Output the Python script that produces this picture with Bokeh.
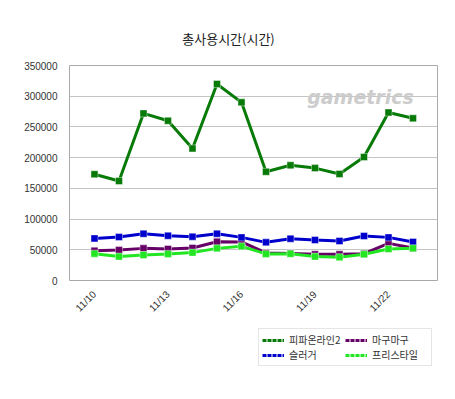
from bokeh.plotting import figure
from bokeh.models import Range1d, FixedTicker, Label, Legend, LegendItem, NumeralTickFormatter
from bokeh.layouts import column
from bokeh.embed import file_html
from bokeh.resources import INLINE
import math

dates = ["11/10", "11/11", "11/12", "11/13", "11/14", "11/15", "11/16",
         "11/17", "11/18", "11/19", "11/20", "11/21", "11/22", "11/23"]
fifa = [173000, 162000, 272000, 260000, 215000, 320000, 290000,
        177000, 187500, 183000, 173500, 201000, 273500, 264000]
magu = [48500, 49500, 52300, 51300, 53000, 63200, 62700,
        44900, 44000, 42700, 42700, 43700, 60400, 53000]
slugger = [68500, 70800, 76200, 72900, 71300, 76200, 70200,
           62100, 68100, 65900, 64300, 72400, 70200, 62700]
freestyle = [43700, 38900, 41600, 43300, 45400, 52300, 55600,
             43300, 43500, 38900, 37800, 42700, 51300, 52300]
names = ["피파온라인2", "마구마구", "슬러거", "프리스타일"]
colors = ["#077a07", "#660066", "#0000cc", "#22e622"]
series = [fifa, magu, slugger, freestyle]
xs = list(range(len(dates)))


def blank(h):
    f = figure(width=455, height=h, output_backend="svg", toolbar_location=None,
               x_range=Range1d(0, 1), y_range=Range1d(0, 1),
               min_border_left=0, min_border_right=0, min_border_top=0, min_border_bottom=0)
    f.axis.visible = False
    f.grid.visible = False
    f.outline_line_color = None
    f.border_fill_color = "white"
    return f


# title panel (frame aligned with the main frame by the column layout)
tp = blank(57)
tp.add_layout(Label(x=159, y=19, x_units="screen", y_units="screen", text="총사용시간(시간)",
                    text_align="center", text_baseline="middle",
                    text_font="Noto Sans CJK KR", text_font_size="13px",
                    text_color="#222222"))

p = figure(width=455, height=263, output_backend="svg", toolbar_location=None,
           x_range=Range1d(-1.02, 14.0), y_range=Range1d(0, 350000),
           min_border_left=69, min_border_right=18, min_border_top=8, min_border_bottom=39)
p.outline_line_color = "#aaaaaa"
p.outline_line_width = 1
p.border_fill_color = "white"
p.background_fill_color = "white"

p.xgrid.visible = False
p.ygrid.grid_line_color = "#c4c4c4"
p.ygrid.grid_line_width = 1

p.yaxis.ticker = FixedTicker(ticks=[0, 50000, 100000, 150000, 200000, 250000, 300000, 350000])
p.yaxis.formatter = NumeralTickFormatter(format="0")
p.xaxis.ticker = FixedTicker(ticks=[0, 3, 6, 9, 12])
p.xaxis.major_label_overrides = {i: dates[i] for i in [0, 3, 6, 9, 12]}
p.xaxis.major_label_orientation = math.pi / 4
for ax in (p.xaxis[0], p.yaxis[0]):
    ax.axis_line_color = None
    ax.major_tick_line_color = None
    ax.minor_tick_line_color = None
    ax.major_label_text_font = "Liberation Sans"
    ax.major_label_text_font_size = "10px"
    ax.major_label_text_color = "#333333"
p.yaxis.major_label_standoff = 6
p.xaxis.major_label_standoff = 6

for name, col, ys in zip(names, colors, series):
    p.line(xs, ys, line_color=col, line_width=3)
    p.scatter(xs, ys, marker="square", size=7, fill_color=col, line_color="white",
              line_width=0.6, line_alpha=0.7)

p.add_layout(Label(x=291, y=184, x_units="screen", y_units="screen", text="gametrics",
                   text_align="center", text_baseline="middle", text_font="DejaVu Sans",
                   text_font_style="bold italic", text_font_size="19px", text_color="#cccccc"))

# legend panel
lp = blank(79)
order = [0, 2, 1, 3]  # column-major fill: row1 피파/마구, row2 슬러거/프리스타일
leg_items = []
for i in order:
    lr = lp.line([0, 1], [-5, -5], line_color=colors[i], line_width=3, line_dash="4 1")
    leg_items.append(LegendItem(label=names[i], renderers=[lr]))

legend = Legend(items=leg_items, location=(189, 33), ncols=2,
                label_text_font="Noto Sans CJK KR", label_text_font_size="10px",
                label_text_color="#333333", border_line_color="#cccccc",
                glyph_width=22, glyph_height=10, label_height=12, label_width=56,
                spacing=0, padding=3, margin=0, label_standoff=5)
lp.add_layout(legend, "center")

layout = column(tp, p, lp, spacing=0)
open("out.html", "w").write(file_html(layout, INLINE))
